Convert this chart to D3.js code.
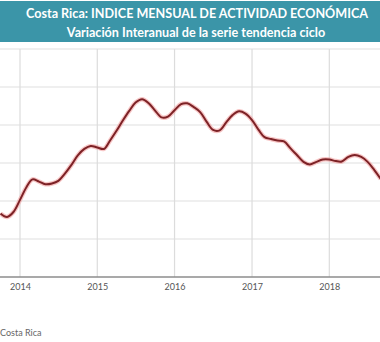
<!DOCTYPE html>
<html>
<head>
<meta charset="utf-8">
<script src="https://cdn.jsdelivr.net/npm/d3@7"></script>
<style>
  html, body { margin: 0; padding: 0; background: #fff; }
  svg { display: block; }
</style>
</head>
<body>
<svg id="chart" width="380" height="342"></svg>
<script>
// Variación interanual mensual (serie tendencia ciclo), oct 2013 - jun 2018
const firstMonth = [2013, 9];
const values = [
  1.67, 1.58, 1.71,
  2.03, 2.37, 2.57, 2.51, 2.44, 2.46, 2.53, 2.72, 2.95, 3.20, 3.37, 3.45,
  3.41, 3.37, 3.58, 3.84, 4.11, 4.37, 4.59, 4.68, 4.57, 4.38, 4.20, 4.22,
  4.39, 4.55, 4.57, 4.47, 4.34, 4.08, 3.87, 3.86, 4.07, 4.26, 4.36, 4.30,
  4.13, 3.87, 3.68, 3.63, 3.59, 3.57, 3.39, 3.21, 3.03, 2.96, 3.03, 3.09,
  3.09, 3.05, 3.04, 3.16, 3.21, 3.16, 3.03, 2.82, 2.58
];
const yearTicks = ["2014", "2015", "2016", "2017", "2018"];
const yTicks = [0, 1, 2, 3, 4, 5, 6];
const titles = [
  "Costa Rica: INDICE MENSUAL DE ACTIVIDAD ECONÓMICA",
  "Variación Interanual de la serie tendencia ciclo"
];
const sourceText = "Costa Rica";

const svg = d3.select("#chart");
const W = 380, H = 342;

const data = values.map((v, i) => ({
  date: new Date(firstMonth[0], firstMonth[1] + i, 1),
  value: v
}));

const x = d3.scaleTime()
  .domain([new Date(2014, 0, 1), new Date(2018, 0, 1)])
  .range([20, 329.3]);

const y = d3.scaleLinear()
  .domain([0, 6])
  .range([277, 49]);

// cabecera
svg.append("rect")
  .attr("x", 0).attr("y", 1)
  .attr("width", W).attr("height", 41)
  .attr("fill", "#3b95a8");

svg.selectAll(".title")
  .data(titles)
  .enter()
  .append("text")
  .attr("class", "title")
  .attr("x", (d, i) => i === 0 ? 197 : 196)
  .attr("y", (d, i) => i === 0 ? 18 : 36.5)
  .attr("text-anchor", "middle")
  .attr("fill", "#fff")
  .attr("font-family", "Lato, sans-serif")
  .attr("font-weight", "bold")
  .attr("font-size", 12.6)
  .text(d => d);

// rejilla horizontal
svg.append("g")
  .selectAll("line")
  .data(yTicks.slice(1))
  .enter()
  .append("line")
  .attr("x1", 0).attr("x2", W)
  .attr("y1", d => y(d)).attr("y2", d => y(d))
  .attr("stroke", "#e0e0e0")
  .attr("stroke-width", 1.2);

// rejilla vertical por año
svg.append("g")
  .selectAll("line")
  .data(yearTicks)
  .enter()
  .append("line")
  .attr("x1", d => x(new Date(+d, 0, 1)))
  .attr("x2", d => x(new Date(+d, 0, 1)))
  .attr("y1", y(6)).attr("y2", y(0))
  .attr("stroke", "#dcdcdc")
  .attr("stroke-width", 1.2);

// eje x
const xAxis = d3.axisBottom(x)
  .tickValues(yearTicks.map(d => new Date(+d, 0, 1)))
  .tickFormat(d3.timeFormat("%Y"))
  .tickSize(0)
  .tickPadding(7);

const gx = svg.append("g")
  .attr("transform", `translate(0,${y(0)})`)
  .call(xAxis);
gx.select(".domain").remove();
gx.selectAll("text")
  .attr("fill", "#555")
  .attr("font-family", "Lato, sans-serif")
  .attr("font-size", 9);

svg.append("line")
  .attr("x1", 0).attr("x2", W)
  .attr("y1", y(0)).attr("y2", y(0))
  .attr("stroke", "#8c8c8c")
  .attr("stroke-width", 1.5);

// serie
const line = d3.line()
  .x(d => x(d.date))
  .y(d => y(d.value))
  .curve(d3.curveCatmullRom.alpha(0.5));

svg.append("path")
  .datum(data)
  .attr("d", line)
  .attr("fill", "none")
  .attr("stroke", "#f2a0a0")
  .attr("stroke-opacity", 0.6)
  .attr("stroke-width", 4.5);

svg.append("path")
  .datum(data)
  .attr("d", line)
  .attr("fill", "none")
  .attr("stroke", "#7d2226")
  .attr("stroke-width", 2);

// fuente
svg.append("text")
  .attr("x", 0)
  .attr("y", 336)
  .attr("fill", "#666")
  .attr("font-family", "Lato, sans-serif")
  .attr("font-size", 9)
  .text(sourceText);
</script>
</body>
</html>
